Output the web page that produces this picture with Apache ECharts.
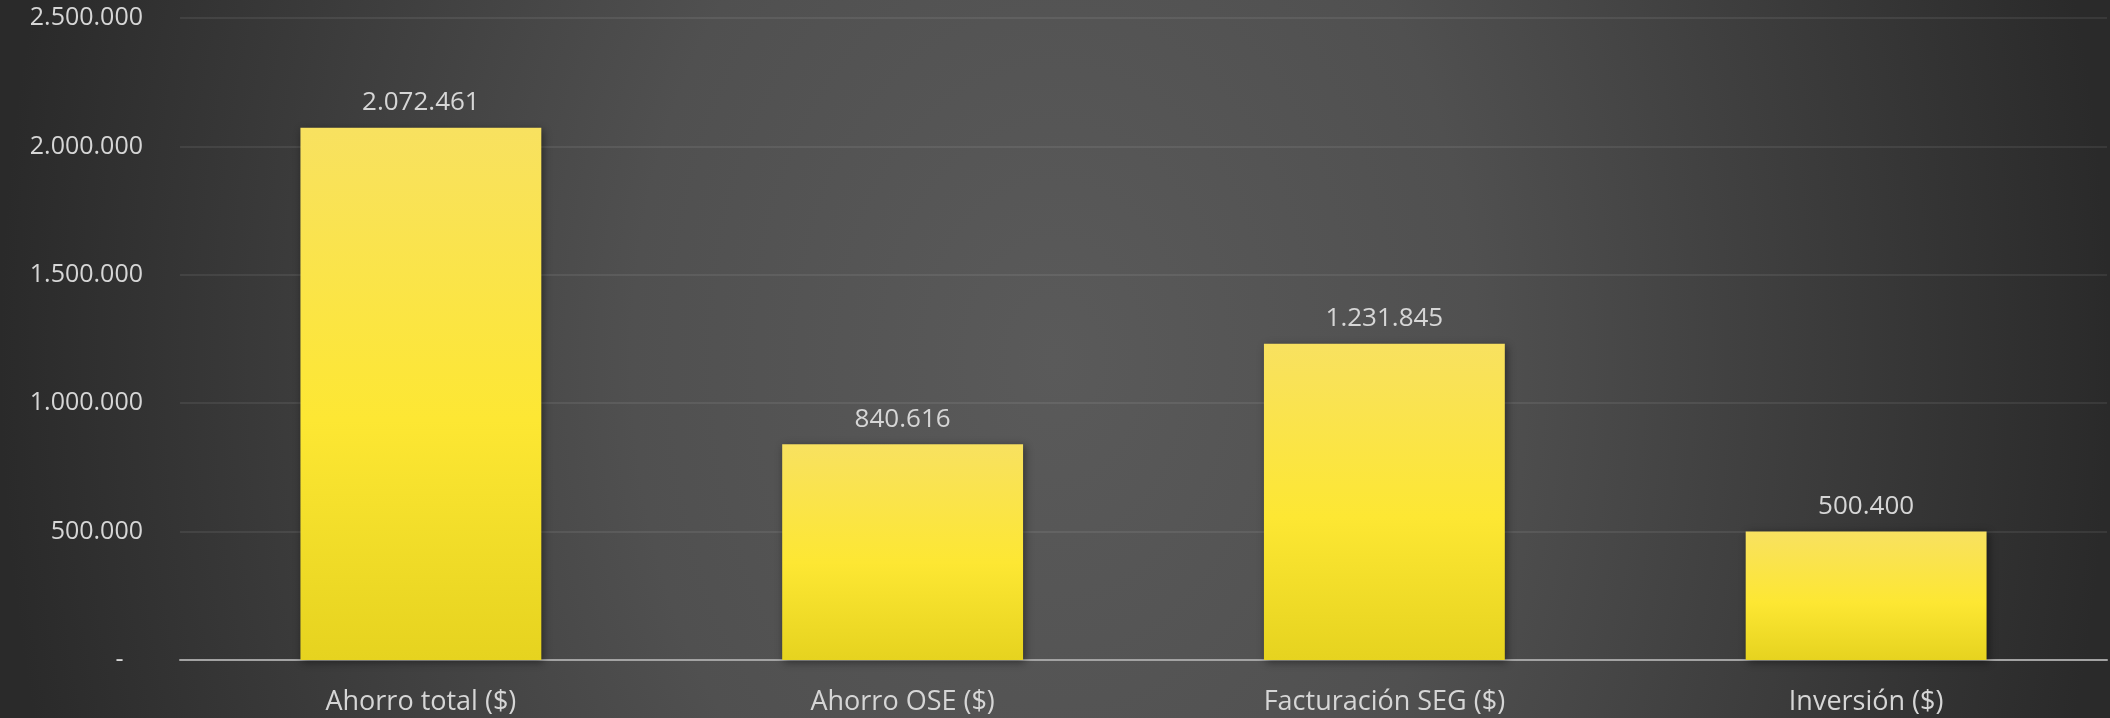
<!DOCTYPE html>
<html>
<head>
<meta charset="utf-8">
<script src="https://cdn.jsdelivr.net/npm/echarts@6/dist/echarts.min.js"></script>
<style>
  html, body { margin: 0; padding: 0; }
  #chart {
    width: 2110px; height: 718px;
    background: radial-gradient(ellipse 50% 200% at 50% 50%, #5a5a5a 0%, #505050 40%, #2a2a2a 100%);
  }
</style>
</head>
<body>
<div id="chart"></div>
<script>
// datos
var categorias = ['Ahorro total ($)', 'Ahorro OSE ($)', 'Facturación SEG ($)', 'Inversión ($)'];
var valores = [2072461, 840616, 1231845, 500400];
var ejeMin = 0, ejeMax = 2500000, ejeIntervalo = 500000;

// formato con punto de miles
function miles(v) {
  return String(Math.round(v)).replace(/\B(?=(\d{3})+(?!\d))/g, '.');
}

var chartDom = document.getElementById('chart');
var myChart = echarts.init(chartDom);
var fuente = '"Open Sans", "DejaVu Sans", sans-serif';
var option = {
  backgroundColor: 'transparent',
  animation: false,
  grid: { left: 180, right: 3, top: 18, bottom: 58, containLabel: false },
  xAxis: {
    type: 'category',
    data: categorias,
    axisLine: { lineStyle: { color: '#a3a3a3', width: 2 } },
    axisTick: { show: false },
    axisLabel: { color: '#d6d6d6', fontSize: 27, fontFamily: fuente, margin: 29 }
  },
  yAxis: {
    type: 'value',
    min: ejeMin,
    max: ejeMax,
    interval: ejeIntervalo,
    axisLine: { show: false },
    axisTick: { show: false },
    splitLine: { lineStyle: { color: 'rgba(255,255,255,0.1)', width: 1.5 } },
    axisLabel: {
      color: '#d6d6d6', fontSize: 25, fontFamily: fuente, margin: 37,
      formatter: function (v) { return v === 0 ? '-   ' : miles(v); }
    }
  },
  series: [
    {
      type: 'bar',
      data: valores,
      barCategoryGap: '50%',
      itemStyle: {
        color: {
          type: 'linear', x: 0, y: 0, x2: 0, y2: 1,
          colorStops: [
            { offset: 0, color: '#f8e160' },
            { offset: 0.55, color: '#fde733' },
            { offset: 1, color: '#e6d31f' }
          ]
        },
        shadowBlur: 8,
        shadowColor: 'rgba(0,0,0,0.45)',
        shadowOffsetX: 2,
        shadowOffsetY: 2
      },
      label: {
        show: true,
        position: 'top',
        distance: 12,
        color: '#d6d6d6',
        fontSize: 26,
        fontFamily: fuente,
        formatter: function (p) { return miles(p.value); }
      }
    }
  ]
};
myChart.setOption(option);
</script>
</body>
</html>
